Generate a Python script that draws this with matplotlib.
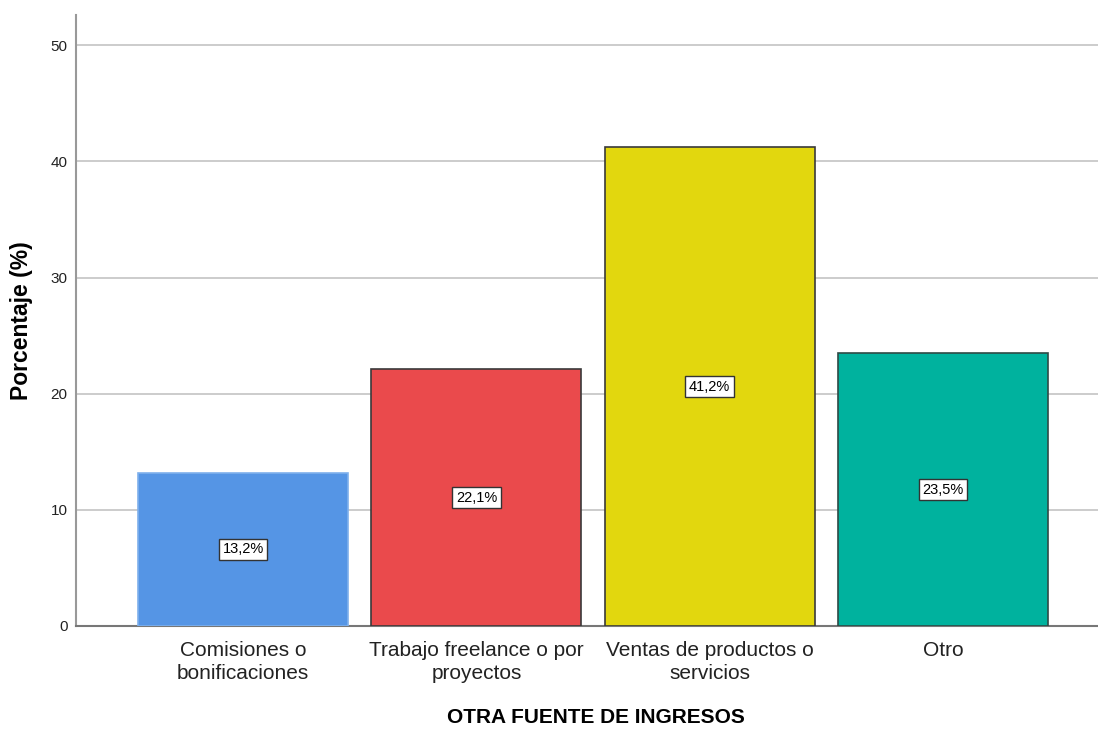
import numpy as np
import matplotlib
matplotlib.use("Agg")
import matplotlib.pyplot as plt

categorias = ["Comisiones o\nbonificaciones", "Trabajo freelance o por\nproyectos",
              "Ventas de productos o\nservicios", "Otro"]
porcentajes = [13.2, 22.1, 41.2, 23.5]
etiquetas = ["13,2%", "22,1%", "41,2%", "23,5%"]
colores = ["#5595E5", "#EA4A4C", "#E2D70E", "#00B29E"]
bordes = ["#7FB0EC", "#3A3A3A", "#3A3A3A", "#2E4A46"]
yticks = [0, 10, 20, 30, 40, 50]

plt.rcParams['font.family'] = ['Liberation Sans', 'DejaVu Sans']

fig = plt.figure(figsize=(10.98, 7.29), dpi=100)
ax = fig.add_axes([0.0692, 0.1413, 0.9308, 0.8381])

x = np.arange(len(categorias))
ax.bar(x, porcentajes, width=0.9, color=colores, edgecolor=bordes, linewidth=1.2, zorder=3)

# etiquetas en el centro de cada barra
for xi, v, lab in zip(x, porcentajes, etiquetas):
    ax.text(xi, v / 2, lab, ha='center', va='center', fontsize=10.5, zorder=4,
            bbox=dict(boxstyle='square,pad=0.25', facecolor='white', edgecolor='#333333', linewidth=1.0))

ax.set_xlim(-0.716, 3.664)
ax.set_ylim(0, 52.6)
ax.set_yticks(yticks)
ax.yaxis.grid(True, color='#C8C8C8', linewidth=1.3, zorder=0)
ax.set_axisbelow(True)

ax.set_xticks(x)
ax.set_xticklabels(categorias, fontsize=15, color='#222222', linespacing=1.28)
ax.tick_params(axis='x', length=0, pad=11)
ax.tick_params(axis='y', length=0, pad=6, labelsize=11, labelcolor='#222222')

for s in ['top', 'right']:
    ax.spines[s].set_visible(False)
ax.spines['left'].set_color('#999999')
ax.spines['bottom'].set_color('#777777')
ax.spines['left'].set_linewidth(1.5)
ax.spines['bottom'].set_linewidth(1.5)

ax.set_ylabel("Porcentaje (%)", fontsize=16.5, fontweight='bold')
ax.set_xlabel("OTRA FUENTE DE INGRESOS", fontsize=15, fontweight='bold')
ax.yaxis.set_label_coords(-0.042, 0.5)
ax.xaxis.set_label_coords(0.509, -0.135)

fig.savefig("out.png", dpi=100)
